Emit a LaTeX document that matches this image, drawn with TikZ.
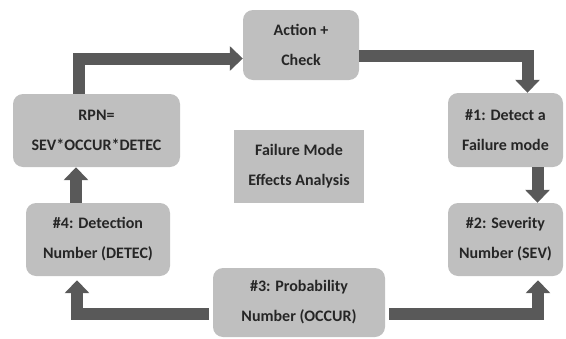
\documentclass[tikz,border=0pt]{standalone}
\usepackage{fontspec}
\setmainfont{Carlito}
\usetikzlibrary{arrows.meta}
\definecolor{boxfill}{RGB}{191,191,191}
\definecolor{arrowfill}{RGB}{89,89,89}
\definecolor{txt}{RGB}{38,38,38}
\begin{document}
\begin{tikzpicture}[x=1pt,y=-1pt,
  box/.style={fill=boxfill, rounded corners=10pt, align=center, inner sep=0pt, text=txt,
    font=\fontsize{16}{30}\selectfont\bfseries},
  sqbox/.style={box, sharp corners},
  flow/.style={draw=arrowfill, line width=12pt, line join=miter,
    -{Triangle[width=24pt,length=13pt]}}]
\useasboundingbox (0,0) rectangle (566,338);
\node[box, minimum width=116pt, minimum height=70pt] (act) at (301,45) {Action +\\Check};
\node[box, minimum width=167pt, minimum height=73pt] (rpn) at (96.5,130.5) {RPN=\\SEV*OCCUR*DETEC};
\node[box, minimum width=115pt, minimum height=74pt] (d1) at (505.5,130) {\#1: Detect a\\Failure mode};
\node[sqbox, minimum width=130pt, minimum height=73pt] (fmea) at (299,166.5) {Failure Mode\\Effects Analysis};
\node[box, minimum width=144pt, minimum height=73pt] (d4) at (98,239.5) {\#4: Detection\\Number (DETEC)};
\node[box, minimum width=115pt, minimum height=73pt] (d2) at (505.5,239.5) {\#2: Severity\\Number (SEV)};
\node[box, minimum width=172pt, minimum height=69pt] (d3) at (299,302.5) {\#3: Probability\\Number (OCCUR)};
\draw[flow] ([xshift=-17.5pt]rpn.north) |- ([yshift=-13.5pt]act.west);
\draw[flow] ([yshift=-11pt]act.east) -| ([xshift=22pt]d1.north);
\draw[flow] ([xshift=32pt]d1.south) -- ([xshift=32pt]d2.north);
\draw[flow] ([xshift=4pt,yshift=-11.5pt]d3.east) -| ([xshift=32.5pt,yshift=-4pt]d2.south);
\draw[flow] ([xshift=-4pt,yshift=-11.5pt]d3.west) -| ([xshift=-21pt,yshift=-4pt]d4.south);
\draw[flow] ([xshift=-22pt]d4.north) -- ([xshift=-20.5pt]rpn.south);
\end{tikzpicture}
\end{document}
